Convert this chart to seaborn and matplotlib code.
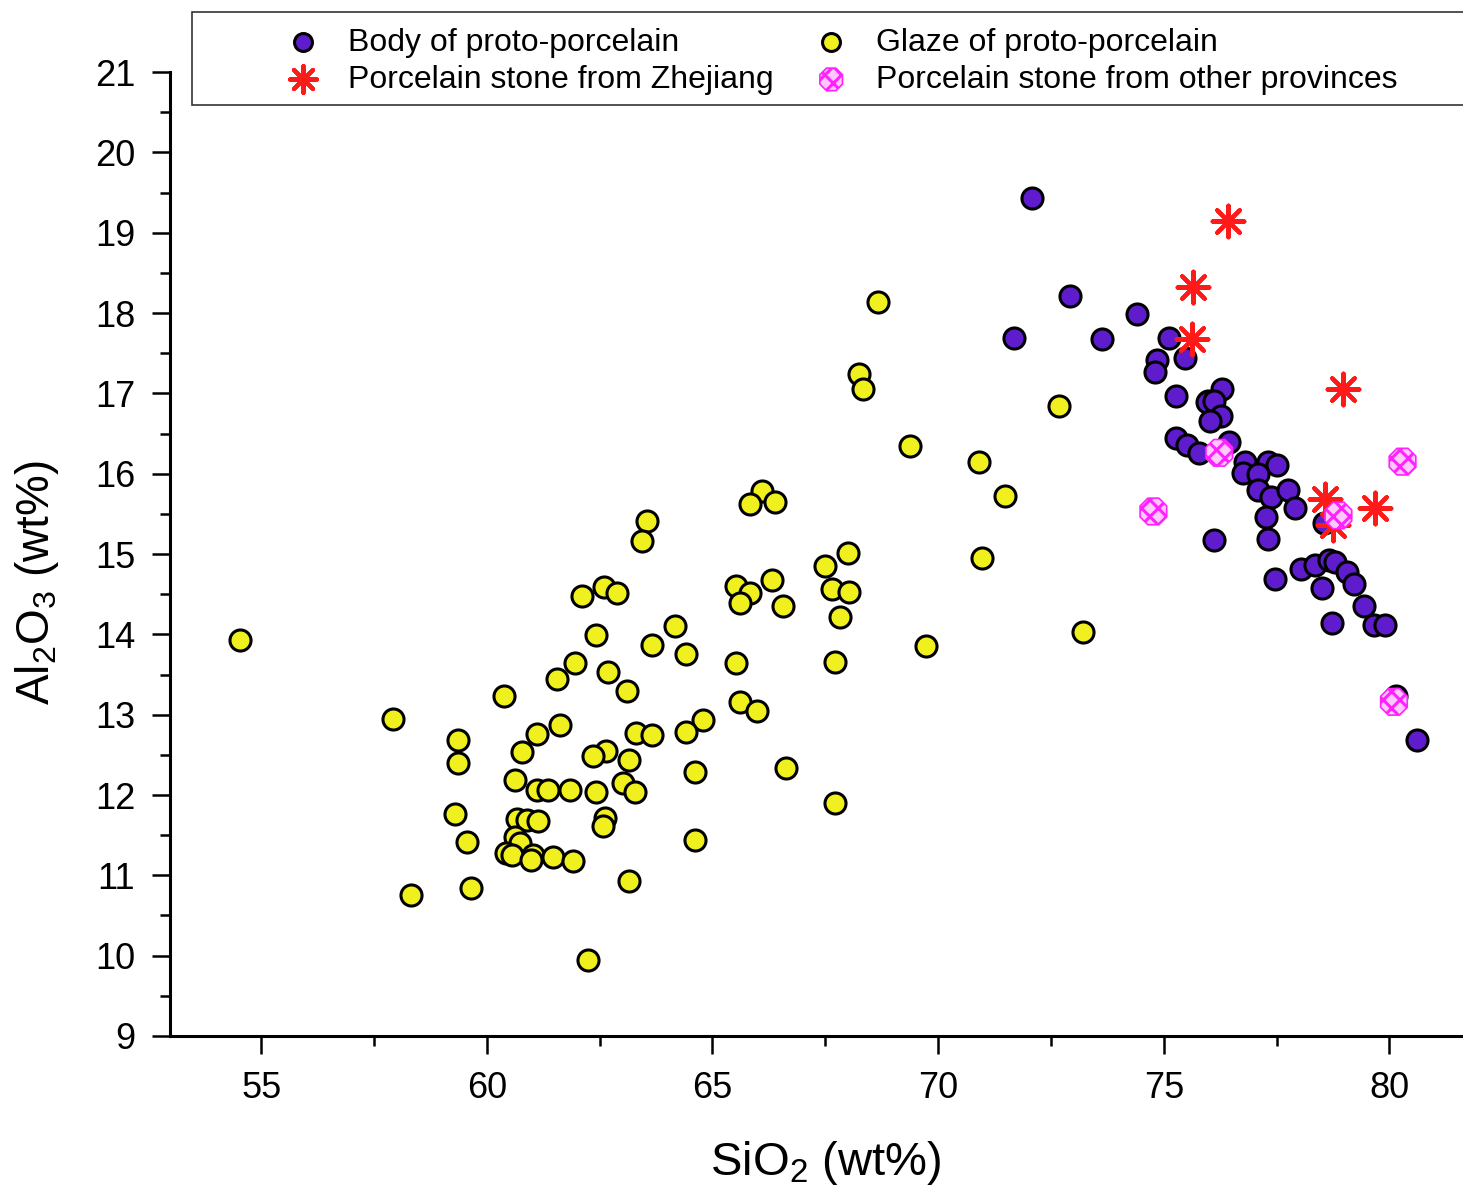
import numpy as np
import pandas as pd
import matplotlib
matplotlib.use("Agg")
import matplotlib.pyplot as plt
import seaborn as sns
from matplotlib.patches import Rectangle
from matplotlib.ticker import MultipleLocator

# --- data: SiO2 / Al2O3 (wt%) ---
body_sio2 = [72.08, 72.92, 71.68, 73.63, 74.41, 75.11, 74.85, 74.80, 75.47, 75.27,
             76.30, 75.97, 75.96, 76.12, 76.27, 76.03, 75.26, 75.51, 75.78, 76.45,
             76.79, 76.75, 77.31, 77.50, 77.09, 77.09, 77.38, 77.75, 77.91, 77.27,
             77.31, 78.54, 76.12, 77.46, 78.05, 78.35, 78.65, 78.80, 78.50, 79.06,
             79.21, 79.43, 78.72, 79.66, 79.91, 80.14, 80.62]
body_al2o3 = [19.43, 18.21, 17.69, 17.68, 17.99, 17.69, 17.41, 17.27, 17.44, 16.97,
              17.05, 16.91, 16.89, 16.91, 16.72, 16.65, 16.45, 16.36, 16.26, 16.40,
              16.15, 16.01, 16.15, 16.11, 15.99, 15.80, 15.71, 15.80, 15.57, 15.46,
              15.19, 15.38, 15.17, 14.69, 14.81, 14.86, 14.92, 14.90, 14.58, 14.77,
              14.63, 14.35, 14.14, 14.12, 14.12, 13.23, 12.68]

glaze_sio2 = [54.53, 57.92, 58.32, 59.65, 59.57, 59.30, 59.37, 59.36, 60.37, 60.63,
              60.78, 61.11, 61.62, 61.55, 61.96, 62.10, 62.60, 62.89, 62.42, 62.69,
              63.10, 63.67, 64.17, 64.42, 63.56, 63.43, 66.09, 65.83, 66.39, 65.52,
              65.83, 65.61, 66.31, 66.57, 67.49, 67.64, 67.82, 67.72, 67.72, 65.52,
              65.61, 65.98, 66.64, 64.80, 64.42, 64.61, 64.61, 63.31, 63.66, 63.16,
              62.65, 62.36, 63.02, 63.29, 61.84, 62.42, 61.11, 61.36, 62.62, 62.57,
              60.66, 60.89, 61.14, 60.63, 60.74, 60.43, 60.55, 61.03, 60.99, 61.46,
              61.92, 63.14, 62.25, 68.67, 68.24, 68.34, 69.38, 70.91, 71.48, 72.68,
              70.97, 69.73, 73.21, 68.03, 68.00]
glaze_al2o3 = [13.93, 12.95, 10.75, 10.84, 11.42, 11.76, 12.40, 12.68, 13.23, 12.19,
               12.54, 12.76, 12.87, 13.45, 13.64, 14.48, 14.59, 14.51, 13.99, 13.53,
               13.30, 13.87, 14.10, 13.76, 15.41, 15.16, 15.78, 15.62, 15.65, 14.60,
               14.51, 14.39, 14.68, 14.35, 14.85, 14.57, 14.22, 13.66, 11.90, 13.64,
               13.16, 13.04, 12.33, 12.93, 12.78, 12.29, 11.44, 12.77, 12.75, 12.44,
               12.55, 12.48, 12.15, 12.04, 12.06, 12.04, 12.06, 12.06, 11.71, 11.61,
               11.70, 11.69, 11.68, 11.48, 11.40, 11.28, 11.25, 11.25, 11.19, 11.23,
               11.18, 10.93, 9.95, 18.14, 17.24, 17.05, 16.34, 16.15, 15.72, 16.84,
               14.95, 13.85, 14.03, 14.53, 15.01]

zj_sio2 = [76.42, 75.65, 75.63, 78.98, 78.58, 79.69, 78.75]
zj_al2o3 = [19.14, 18.32, 17.68, 17.05, 15.69, 15.57, 15.36]

other_sio2 = [74.77, 76.23, 80.29, 78.87, 80.10]
other_al2o3 = [15.53, 16.26, 16.15, 15.48, 13.16]

labels = ["Body of proto-porcelain", "Glaze of proto-porcelain",
          "Porcelain stone from Zhejiang", "Porcelain stone from other provinces"]

df = pd.concat([
    pd.DataFrame({"SiO2": body_sio2, "Al2O3": body_al2o3, "group": labels[0]}),
    pd.DataFrame({"SiO2": glaze_sio2, "Al2O3": glaze_al2o3, "group": labels[1]}),
    pd.DataFrame({"SiO2": zj_sio2, "Al2O3": zj_al2o3, "group": labels[2]}),
    pd.DataFrame({"SiO2": other_sio2, "Al2O3": other_al2o3, "group": labels[3]}),
], ignore_index=True)

sns.set_style("white")
plt.rcParams["font.family"] = ["Liberation Sans", "DejaVu Sans"]
plt.rcParams["mathtext.fontset"] = "custom"
plt.rcParams["mathtext.rm"] = "Liberation Sans"
plt.rcParams["hatch.color"] = "#ff22ff"
plt.rcParams["hatch.linewidth"] = 2.2
for k in ["text.color", "axes.labelcolor", "xtick.color", "ytick.color"]:
    plt.rcParams[k] = "black"

fig = plt.figure(figsize=(14.63, 12.01), dpi=100)
ax = fig.add_axes([0.1162, 0.1374, 0.8838, 0.8026])

purple = "#5e1ccc"
yellow = "#f0f01e"

sns.scatterplot(data=df[df.group == labels[0]], x="SiO2", y="Al2O3", ax=ax,
                color=purple, edgecolor="black", linewidth=2.2, s=230,
                marker="o", label=labels[0], zorder=3)
sns.scatterplot(data=df[df.group == labels[1]], x="SiO2", y="Al2O3", ax=ax,
                color=yellow, edgecolor="black", linewidth=2.2, s=230,
                marker="o", label=labels[1], zorder=3)
sns.scatterplot(data=df[df.group == labels[2]], x="SiO2", y="Al2O3", ax=ax,
                color="#ff1a1a", linewidth=3.0, s=520,
                marker=(8, 2, 0), label=labels[2], zorder=4)
sns.scatterplot(data=df[df.group == labels[3]], x="SiO2", y="Al2O3", ax=ax,
                facecolor="#ffc8ff", edgecolor="#ff22ff", linewidth=1.2, s=430,
                marker="8", hatch="xx", label=labels[3], zorder=5)

ax.set_xlim(52.98, 81.63)
ax.set_ylim(9, 21)
ax.xaxis.set_major_locator(MultipleLocator(5))
ax.xaxis.set_minor_locator(MultipleLocator(2.5))
ax.yaxis.set_major_locator(MultipleLocator(1))
ax.yaxis.set_minor_locator(MultipleLocator(0.5))
ax.tick_params(which="major", direction="out", length=13, width=1.8,
               labelsize=26, pad=12, bottom=True, left=True)
ax.tick_params(which="minor", direction="out", length=7, width=1.8,
               bottom=True, left=True)
for side in ["top", "right"]:
    ax.spines[side].set_visible(False)
for side in ["left", "bottom"]:
    ax.spines[side].set_linewidth(2.2)
    ax.spines[side].set_color("black")

ax.set_xlabel(r"$\mathregular{SiO_2}$ (wt%)", fontsize=34)
ax.set_ylabel(r"$\mathregular{Al_2O_3}$ (wt%)", fontsize=33)
ax.xaxis.set_label_coords((826 - 170) / 1293, (1036 - 1163) / 964)
ax.yaxis.set_label_coords((37 - 170) / 1293, (1036 - 583) / 964)
ax.xaxis.label.set_va("center")
ax.yaxis.label.set_va("center")

# legend box (extends past the right edge like the original)
fig.add_artist(Rectangle((192 / 1463, 1 - 105 / 1201), 1.0, 93 / 1201,
                         transform=fig.transFigure, facecolor="white",
                         edgecolor="#333333", linewidth=1.2, zorder=10))
handles, _ = ax.get_legend_handles_labels()
ax.get_legend().remove()
order = [0, 2, 1, 3]  # row-wise: body, glaze / zhejiang, other
leg = fig.legend([handles[i] for i in order], [labels[i] for i in order],
                 loc="upper left", bbox_to_anchor=(250 / 1463, 1 + 1 / 1201),
                 ncol=2, frameon=False, fontsize=23, handletextpad=0.66,
                 columnspacing=1.06, labelspacing=0.22, markerscale=0.85,
                 handlelength=1.5)
leg.set_zorder(11)

fig.savefig("out.png", dpi=100)
